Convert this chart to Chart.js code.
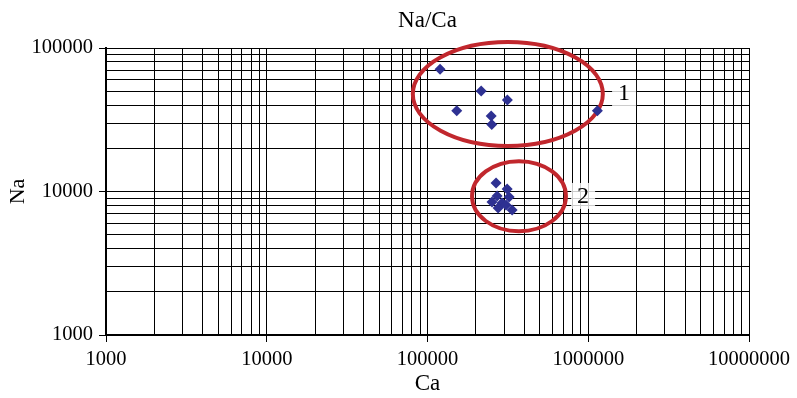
<!DOCTYPE html>
<html>
<head>
<meta charset="utf-8">
<script src="https://cdn.jsdelivr.net/npm/chart.js@4/dist/chart.umd.min.js"></script>
<style>
  html, body { margin: 0; padding: 0; background: #fff; }
  #wrap { width: 797px; height: 398px; }
</style>
</head>
<body>
<div id="wrap"><canvas id="c" width="797" height="398"></canvas></div>
<script>
// Samples, group 1 (high Na)
const caGroup1 = [119700, 215700, 152000, 314000, 249000, 251000, 1140000];
const naGroup1 = [71100, 50150, 36580, 43480, 33560, 29250, 36600];

// Samples, group 2 (low Na)
const caGroup2 = [267000, 313000, 271000, 322000, 252000, 291000, 275000, 336000, 308000];
const naGroup2 = [11460, 10400, 9300, 9160, 8450, 8320, 7670, 7430, 8050];

// Axis decades and the in-decade multipliers used for the log grid
const xDecades = [1000, 10000, 100000, 1000000, 10000000];
const yDecades = [1000, 10000, 100000];
const gridSteps = [1, 2, 3, 4, 5, 6, 7, 8, 9];

// Group outlines (centre in data units, half-widths in decades) and their numbers
const groupOutlines = [
  { ca: 316000, na: 47800, halfX: 0.591, halfY: 0.362, text: '1', textCa: 1671000, textNa: 48500 },
  { ca: 370700, na: 9270,  halfX: 0.292, halfY: 0.244, text: '2', textCa: 929000,  textNa: 9310 }
];

const SERIF = "'Liberation Serif', 'Times New Roman', serif";

function logTicks(decades) {
  const out = [];
  for (let i = 0; i < decades.length; i++) {
    const d = decades[i];
    if (i === decades.length - 1) { out.push(d); break; }
    for (const s of gridSteps) out.push(d * s);
  }
  return out;
}

function toPoints(xs, ys) {
  return xs.map((x, i) => ({ x: x, y: ys[i] }));
}

const outlinePlugin = {
  id: 'groupOutlines',
  beforeDatasetsDraw(chart) {
    const { ctx, scales: { x, y }, chartArea } = chart;
    ctx.save();
    ctx.beginPath();
    ctx.rect(chartArea.left - 20, chartArea.top - 20, chartArea.width + 40, chartArea.height + 40);
    ctx.clip();
    for (const g of groupOutlines) {
      // number label with a soft white backing
      const lx = x.getPixelForValue(g.textCa);
      const ly = y.getPixelForValue(g.textNa);
      ctx.font = '24px ' + SERIF;
      const w = ctx.measureText(g.text).width;
      ctx.fillStyle = 'rgba(255,255,255,0.8)';
      ctx.fillRect(lx - w / 2 - 6, ly - 13, w + 12, 26);
      ctx.fillStyle = '#000';
      ctx.textAlign = 'center';
      ctx.textBaseline = 'middle';
      ctx.fillText(g.text, lx, ly + 1);

      const cx = x.getPixelForValue(g.ca);
      const cy = y.getPixelForValue(g.na);
      const rx = x.getPixelForValue(g.ca * Math.pow(10, g.halfX)) - cx;
      const ry = cy - y.getPixelForValue(g.na * Math.pow(10, g.halfY));
      ctx.beginPath();
      ctx.ellipse(cx, cy, rx, ry, 0, 0, Math.PI * 2);
      ctx.strokeStyle = '#c1272d';
      ctx.lineWidth = 4;
      ctx.stroke();
    }
    ctx.restore();
  },
  afterDraw(chart) {
    const { ctx, chartArea } = chart;
    ctx.save();
    ctx.font = '23px ' + SERIF;
    ctx.fillStyle = '#000';
    ctx.textAlign = 'center';
    ctx.textBaseline = 'middle';
    ctx.fillText('Na/Ca', (chartArea.left + chartArea.right) / 2, 21);
    ctx.restore();
  }
};

function majorTickColor(decades) {
  return (c) => (c.tick && decades.includes(c.tick.value)) ? '#000' : 'rgba(0,0,0,0)';
}

new Chart(document.getElementById('c'), {
  type: 'scatter',
  data: {
    datasets: [
      {
        label: 'Group 1',
        data: toPoints(caGroup1, naGroup1),
        pointStyle: 'rectRot',
        pointRadius: 5.5,
        backgroundColor: '#2e3192',
        borderColor: '#2e3192',
        borderWidth: 0
      },
      {
        label: 'Group 2',
        data: toPoints(caGroup2, naGroup2),
        pointStyle: 'rectRot',
        pointRadius: 5.5,
        backgroundColor: '#2e3192',
        borderColor: '#2e3192',
        borderWidth: 0
      }
    ]
  },
  options: {
    responsive: false,
    devicePixelRatio: 1,
    animation: false,
    layout: { padding: { top: 48, right: 48, bottom: 0, left: 0 } },
    plugins: {
      legend: { display: false },
      title: { display: false },
      tooltip: { enabled: false }
    },
    scales: {
      x: {
        type: 'logarithmic',
        min: xDecades[0],
        max: xDecades[xDecades.length - 1],
        afterBuildTicks(scale) {
          scale.ticks = logTicks(xDecades).map(v => ({ value: v, major: xDecades.includes(v) }));
        },
        afterFit(scale) { scale.height = 63; },
        ticks: {
          autoSkip: false,
          maxRotation: 0,
          padding: 5,
          color: '#000',
          font: { family: SERIF, size: 20.5 },
          callback: (v) => xDecades.includes(v) ? String(v) : ''
        },
        grid: {
          color: '#000',
          lineWidth: 1,
          drawTicks: true,
          tickLength: 7,
          tickColor: majorTickColor(xDecades)
        },
        border: { display: true, color: '#000', width: 2 },
        title: {
          display: true,
          text: 'Ca',
          color: '#000',
          font: { family: SERIF, size: 23 },
          padding: { top: -4, bottom: 0 }
        }
      },
      y: {
        type: 'logarithmic',
        min: yDecades[0],
        max: yDecades[yDecades.length - 1],
        afterBuildTicks(scale) {
          scale.ticks = logTicks(yDecades).map(v => ({ value: v, major: yDecades.includes(v) }));
        },
        afterFit(scale) { scale.width = 106; },
        ticks: {
          autoSkip: false,
          padding: 6,
          color: '#000',
          font: { family: SERIF, size: 20.5 },
          callback: (v) => yDecades.includes(v) ? String(v) : ''
        },
        grid: {
          color: '#000',
          lineWidth: 1,
          drawTicks: true,
          tickLength: 7,
          tickColor: majorTickColor(yDecades)
        },
        border: { display: true, color: '#000', width: 2 },
        title: {
          display: true,
          text: 'Na',
          color: '#000',
          font: { family: SERIF, size: 22 },
          padding: { top: 5, bottom: 0 }
        }
      }
    }
  },
  plugins: [outlinePlugin]
});
</script>
</body>
</html>
